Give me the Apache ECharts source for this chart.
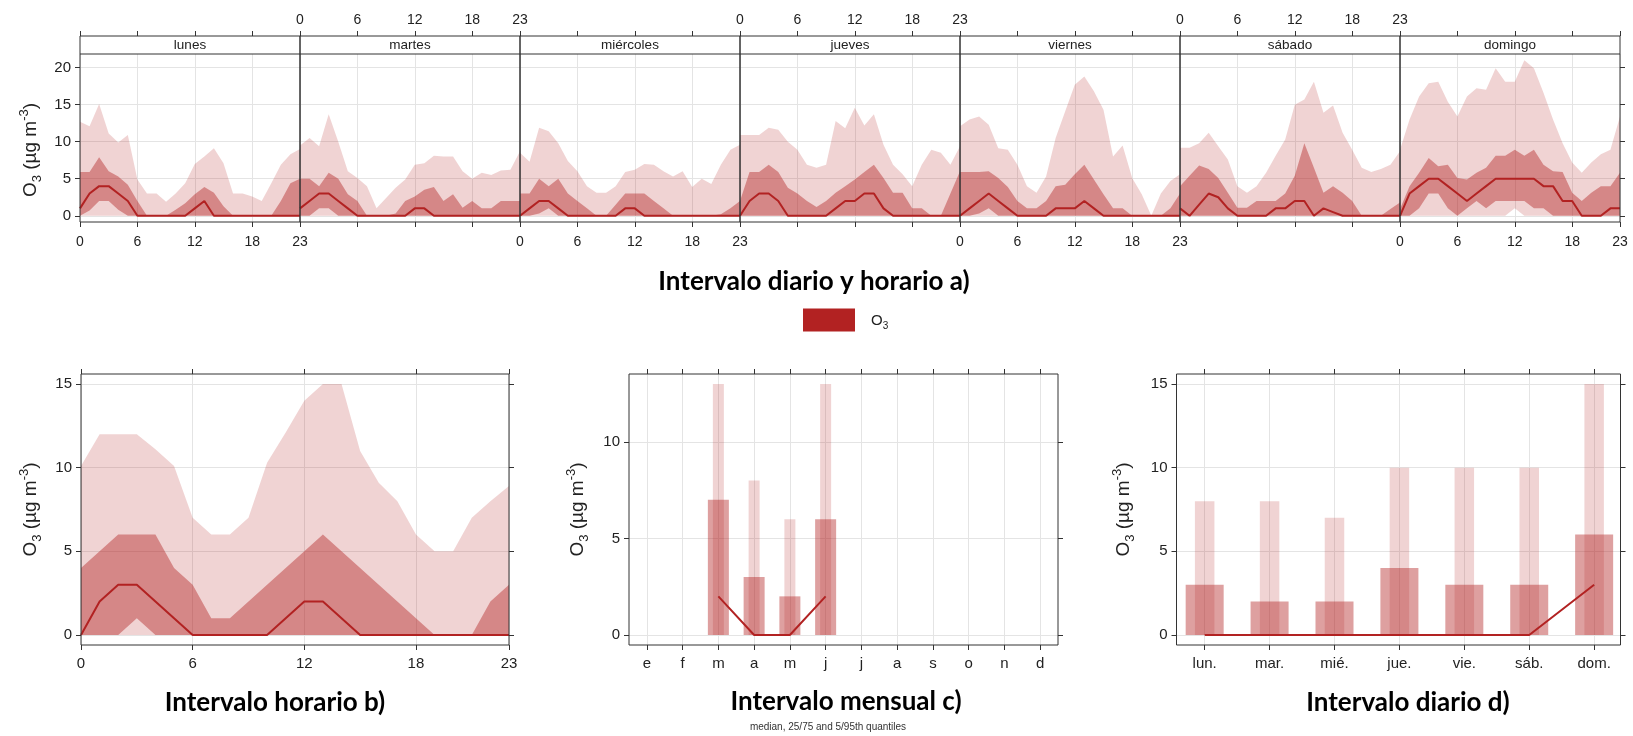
<!DOCTYPE html>
<html>
<head>
<meta charset="utf-8">
<script src="https://cdn.jsdelivr.net/npm/echarts@6/dist/echarts.min.js"></script>
<style>
  html, body { margin: 0; padding: 0; background: #fff; }
  #chart { width: 1633px; height: 736px; }
</style>
</head>
<body>
<div id="chart"></div>
<script>
// ---- data -------------------------------------------------------------
const hours = [0,1,2,3,4,5,6,7,8,9,10,11,12,13,14,15,16,17,18,19,20,21,22,23];
const hourTicks = [0, 6, 12, 18, 23];
const dayNames = ['lunes', 'martes', 'miércoles', 'jueves', 'viernes', 'sábado', 'domingo'];
const dayShort = ['lun.', 'mar.', 'mié.', 'jue.', 'vie.', 'sáb.', 'dom.'];
const monthLabels = ['e', 'f', 'm', 'a', 'm', 'j', 'j', 'a', 's', 'o', 'n', 'd'];

// O3 by weekday and hour: 5th, 25th, 50th, 75th, 95th percentiles
const zeros24 = [0,0,0,0,0,0,0,0,0,0,0,0,0,0,0,0,0,0,0,0,0,0,0,0];
const dayHourQ05 = [
  zeros24, zeros24, zeros24, zeros24, zeros24, zeros24,
  [0,0,0,0,0,0,0,0,0,0,0,0,1,0,0,0,0,0,0,0,0,0,0,0]
];
const dayHourQ25 = [
  [0,0.7,2,2,0.8,0,0,0,0,0,0,0,0,0,0,0,0,0,0,0,0,0,0,0],
  [0,0,1,1,0,0,0,0,0,0,0,0,0,0,0,0,0,0,0,0,0,0,0,0],
  [0,0,0.3,1,0,0,0,0,0,0,0,0,0,0,0,0,0,0,0,0,0,0,0,0],
  zeros24,
  [0,0,0.3,1,0,0,0,0,0,0,0,0,0,0,0,0,0,0,0,0,0,0,0,0],
  zeros24,
  [0,0,1,3,3,1,0,1,2,1,2,2,2,2,1,1,0,0,0,0,0,0,0,0]
];
const dayHourMedian = [
  [1,3,4,4,3,2,0,0,0,0,0,0,1,2,0,0,0,0,0,0,0,0,0,0],
  [1,2,3,3,2,1,0,0,0,0,0,0,1,1,0,0,0,0,0,0,0,0,0,0],
  [0,1,2,2,1,0,0,0,0,0,0,1,1,0,0,0,0,0,0,0,0,0,0,0],
  [0,2,3,3,2,0,0,0,0,0,1,2,2,3,3,1,0,0,0,0,0,0,0,0],
  [0,1,2,3,2,1,0,0,0,0,1,1,1,2,1,0,0,0,0,0,0,0,0,0],
  [1,0,1.5,3,2.5,1,0,0,0,0,1,1,2,2,0,1,0.5,0,0,0,0,0,0,0],
  [0,3,4,5,5,4,3,2,3,4,5,5,5,5,5,4,4,2,2,0,0,0,1,1]
];
const dayHourQ75 = [
  [5.9,5.9,7.9,6,5.3,4.2,2,0,0,0,0.8,1.7,2.9,3.9,3.1,1.3,0,0,0,0,0,2,4.4,5],
  [5,5,4,5.8,5,2.9,2,0,0,0,0.3,2,2.6,3.5,3.9,2,2.9,1.1,2,1,1,2,2,2],
  [3,3,5,4,5,3,2,1,0,0,1.5,3,3,3,2,1,0,0,0,0,0,0.2,1,2],
  [2,5.9,5.9,6.9,5.9,3.8,3,2,1.2,2,3.1,4,4.9,5.9,6.9,5.1,3.1,3.1,1,1,0,0,3,6],
  [5.9,5.9,5.9,6,5.1,3.9,2,1,1,2,4,4.2,5.6,6.9,4.9,2.9,1,1,0,0,0,0,1,3],
  [4,5.4,6.8,6.3,5.1,3.1,1.1,1.1,2,2,2,3,5.4,9.8,6.5,3.1,4,3.1,2,0,0,0,0.9,1.8],
  [0.9,4,5.8,7.8,6.7,6.9,5.1,4.9,5.8,6.5,8.1,8.1,8.9,8.1,8.9,6.9,6,5.9,3.1,2,3.1,4,4,5.8]
];
const dayHourQ95 = [
  [12.7,12.1,15.1,11.1,9.9,10.9,4.9,3,3,1.9,3,4.4,7,8,9.1,7.1,3,3,2.6,2,4.4,6.9,8.3,9],
  [9.5,10.5,9.4,13.7,10,6,5.1,4,1,2.4,3.8,4.9,6.9,7.1,8.1,8,8,6,5,5.8,5.5,6.1,6.2,8.7],
  [8.5,7.3,11.9,11.4,9.8,7.4,6,4,3.1,3.1,4,5.9,6.2,7,6.9,6,5.3,6,3.9,5,4.3,6.9,8.9,9.6],
  [10.9,10.9,10.9,11.9,11.6,10,8.9,6.9,6.5,6.9,12.8,11.8,14.6,12.2,13.7,9.6,6.9,5.6,4,6.9,8.9,8.5,6.9,9.4],
  [12.1,13,13.4,12.3,9.1,8.9,6.9,4,3.1,5.3,10.5,14.1,17.7,18.8,16.8,14.3,8,9.5,5.1,2.9,0,3,4.7,5.6],
  [9.2,9.2,9.8,11.2,9.4,7.6,4,3.1,4,5.8,8.1,10.3,15,15.7,18.1,13.9,14.9,11.2,8.9,6.5,5.9,6.3,6.9,8.7],
  [8.9,13,16.1,17.9,18.1,15.4,13.4,16.1,17.2,17,19.9,18.1,18.1,21,19.9,16.6,13,9.8,7.2,5.8,7.2,8.3,8.9,13.4]
];

// O3 by hour of day
const hourQ05 = [0,0,0,0,0,0,0,0,0,0,0,0,0,0,0,0,0,0,0,0,0,0,0,0];
const hourQ25 = [0,0,0,1,0,0,0,0,0,0,0,0,0,0,0,0,0,0,0,0,0,0,0,0];
const hourMedian = [0,2,3,3,2,1,0,0,0,0,0,1,2,2,1,0,0,0,0,0,0,0,0,0];
const hourQ75 = [4,5,6,6,6,4,3,1,1,2,3,4,5,6,5,4,3,2,1,0,0,0,2,3];
const hourQ95 = [10.1,12,12,12,11.1,10.1,7,6,6,7,10.3,12.1,14,15,15,11,9.1,8,6,5,5,7,8,8.9];

// O3 by month (only March to June have data)
const monthQ05 = [null,null,0,0,0,0,null,null,null,null,null,null];
const monthQ25 = [null,null,0,0,0,0,null,null,null,null,null,null];
const monthMedian = [null,null,2,0,0,2,null,null,null,null,null,null];
const monthQ75 = [null,null,7,3,2,6,null,null,null,null,null,null];
const monthQ95 = [null,null,13,8,6,13,null,null,null,null,null,null];

// O3 by weekday
const weekdayQ05 = [0,0,0,0,0,0,0];
const weekdayQ25 = [0,0,0,0,0,0,0];
const weekdayMedian = [0,0,0,0,0,0,3];
const weekdayQ75 = [3,2,2,4,3,3,6];
const weekdayQ95 = [8,8,7,10,10,10,15];

// ---- styling ----------------------------------------------------------
const RED = '#b22222';
const BAND_OUTER = 'rgba(178,34,34,0.2)';
const BAND_INNER = 'rgba(178,34,34,0.43)';
const INK = '#222';
const GRIDLINE = '#e4e4e4';
const FRAME = '#333';
const FONT = 'Liberation Sans';
const TITLE_FONT = 'Lato';
const TITLE_SIZE = 26;

// layout of the weekday-hour strip panels
const TOP_L = 80, TOP_W = 220, STRIP_TOP = 36, STRIP_H = 18, TOP_PLOT_TOP = 54, TOP_PLOT_BOTTOM = 222;
const TOP_RANGE = [-0.84, 21.84];
// layout of the three lower panels
const LOW_TOP = 374, LOW_H = 271;
const LOW_PANELS = [
  { left: 81, width: 428 },
  { left: 629, width: 429 },
  { left: 1176.5, width: 444 }
];

const grids = [], xAxes = [], yAxes = [], series = [], graphics = [];

const labelStyle = (show, margin, size) => ({
  show, margin, color: INK, fontFamily: FONT, fontSize: size
});

function hourAxis(gridIndex, position, showLabels, offset, split, margin, size) {
  const pick = (i) => hourTicks.indexOf(i) >= 0;
  return {
    type: 'category', gridIndex, position, offset, data: hours, boundaryGap: false,
    axisLine: { show: false, onZero: false },
    axisTick: { show: true, inside: false, length: 5, interval: pick, lineStyle: { color: FRAME } },
    axisLabel: Object.assign(labelStyle(showLabels, margin, size), { interval: pick }),
    splitLine: { show: split, interval: pick, lineStyle: { color: GRIDLINE, width: 1 } }
  };
}

function valueAxis(gridIndex, position, range, ticks, opts) {
  return {
    type: 'value', gridIndex, position, min: range[0], max: range[1],
    axisLine: { show: false, onZero: false },
    axisTick: { show: opts.ticks, inside: false, length: 5, customValues: ticks, lineStyle: { color: FRAME } },
    axisLabel: Object.assign(labelStyle(opts.labels, opts.margin || 9, opts.size || 15),
      { customValues: ticks, formatter: opts.formatter }),
    splitLine: { show: opts.split, lineStyle: { color: GRIDLINE, width: 1 } }
  };
}

function addBand(xi, yi, lo, hi, color, stackId) {
  series.push({
    type: 'line', xAxisIndex: xi, yAxisIndex: yi, data: lo, stack: stackId,
    symbol: 'none', silent: true, lineStyle: { width: 0, opacity: 0 }
  });
  series.push({
    type: 'line', xAxisIndex: xi, yAxisIndex: yi, stack: stackId,
    data: hi.map((v, k) => (v == null ? null : v - lo[k])),
    symbol: 'none', silent: true, lineStyle: { width: 0, opacity: 0 },
    areaStyle: { color, opacity: 1 }
  });
}

function addMedian(xi, yi, data) {
  series.push({
    type: 'line', xAxisIndex: xi, yAxisIndex: yi, data, symbol: 'none', silent: true,
    lineStyle: { color: RED, width: 2 }, z: 3
  });
}

function addBars(xi, yi, xs, lo, hi, color, width, stackId) {
  series.push({
    type: 'bar', xAxisIndex: xi, yAxisIndex: yi, stack: stackId, barWidth: width, silent: true,
    data: xs.map((x, k) => [x, lo[k]]), itemStyle: { color: 'rgba(0,0,0,0)' }
  });
  series.push({
    type: 'bar', xAxisIndex: xi, yAxisIndex: yi, stack: stackId, barWidth: width, silent: true,
    data: xs.map((x, k) => [x, hi[k] == null ? null : hi[k] - lo[k]]), itemStyle: { color }
  });
}

function frame(x, y, w, h) {
  graphics.push({
    type: 'rect', z: 100, silent: true,
    shape: { x, y, width: w, height: h },
    style: { fill: null, stroke: FRAME, lineWidth: 1 }
  });
}

function text(x, y, str, style, rotation) {
  graphics.push({
    type: 'text', x, y, rotation: rotation || 0, z: 100, silent: true,
    style: Object.assign({ text: str, fill: INK, align: 'center', verticalAlign: 'middle' }, style)
  });
}

function title(x, y, str) {
  text(x, y, str, { fontFamily: TITLE_FONT, fontWeight: 'bold', fontSize: TITLE_SIZE, fill: '#000' });
}

const unitRich = {
  a: { fontFamily: FONT, fontSize: 19, lineHeight: 26, verticalAlign: 'middle', color: INK },
  b: { fontFamily: FONT, fontSize: 13, lineHeight: 13, verticalAlign: 'bottom', color: INK },
  c: { fontFamily: FONT, fontSize: 13, lineHeight: 13, verticalAlign: 'top', color: INK }
};
const unitLabel = '{a|O}{b|3}{a| (µg m}{c|-3}{a|)}';

// ---- a) weekday x hour panels -----------------------------------------
const topTicks = [0, 5, 10, 15, 20];
dayNames.forEach((name, d) => {
  const gi = grids.length;
  const left = TOP_L + d * TOP_W;
  grids.push({ left, top: TOP_PLOT_TOP, width: TOP_W, height: TOP_PLOT_BOTTOM - TOP_PLOT_TOP, show: false });
  const xb = xAxes.length;
  xAxes.push(hourAxis(gi, 'bottom', d % 2 === 0, 0, true, 13, 14));
  xAxes.push(hourAxis(gi, 'top', d % 2 === 1, STRIP_H, false, 9, 14));
  const yl = yAxes.length;
  yAxes.push(valueAxis(gi, 'left', TOP_RANGE, topTicks, { labels: d === 0, ticks: d === 0, split: true }));
  if (d === dayNames.length - 1) {
    yAxes.push(valueAxis(gi, 'right', TOP_RANGE, topTicks, { labels: false, ticks: true, split: false }));
  }
  addBand(xb, yl, dayHourQ05[d], dayHourQ95[d], BAND_OUTER, 'outer' + d);
  addBand(xb, yl, dayHourQ25[d], dayHourQ75[d], BAND_INNER, 'inner' + d);
  addMedian(xb, yl, dayHourMedian[d]);

  frame(left, STRIP_TOP, TOP_W, TOP_PLOT_BOTTOM - STRIP_TOP);
  graphics.push({
    type: 'line', z: 100, silent: true,
    shape: { x1: left, y1: TOP_PLOT_TOP, x2: left + TOP_W, y2: TOP_PLOT_TOP },
    style: { stroke: FRAME, lineWidth: 1 }
  });
  text(left + TOP_W / 2, STRIP_TOP + STRIP_H / 2 + 0.5, name, { fontFamily: FONT, fontSize: 13.5 });
});
text(31, 150, unitLabel, { rich: unitRich }, Math.PI / 2);
title(814, 282, 'Intervalo diario y horario a)');

// legend
graphics.push({
  type: 'rect', z: 100, silent: true,
  shape: { x: 803, y: 308.5, width: 52, height: 23 },
  style: { fill: RED }
});
text(871, 321, '{a|O}{b|3}', {
  align: 'left',
  rich: {
    a: { fontFamily: FONT, fontSize: 15, lineHeight: 20, verticalAlign: 'middle', color: INK },
    b: { fontFamily: FONT, fontSize: 10, lineHeight: 10, verticalAlign: 'bottom', color: INK }
  }
});

// ---- b) hour of day ----------------------------------------------------
{
  const p = LOW_PANELS[0];
  const gi = grids.length;
  grids.push({ left: p.left, top: LOW_TOP, width: p.width, height: LOW_H, show: false });
  const xb = xAxes.length;
  xAxes.push(hourAxis(gi, 'bottom', true, 0, true, 11, 15));
  xAxes.push(hourAxis(gi, 'top', false, 0, false, 8, 15));
  const range = [-0.6, 15.6], ticks = [0, 5, 10, 15];
  const yl = yAxes.length;
  yAxes.push(valueAxis(gi, 'left', range, ticks, { labels: true, ticks: true, split: true }));
  yAxes.push(valueAxis(gi, 'right', range, ticks, { labels: false, ticks: true, split: false }));
  addBand(xb, yl, hourQ05, hourQ95, BAND_OUTER, 'hourOuter');
  addBand(xb, yl, hourQ25, hourQ75, BAND_INNER, 'hourInner');
  addMedian(xb, yl, hourMedian);
  frame(p.left, LOW_TOP, p.width, LOW_H);
  text(31, LOW_TOP + LOW_H / 2, unitLabel, { rich: unitRich }, Math.PI / 2);
  title(275, 703, 'Intervalo horario b)');
}

// ---- c) month ----------------------------------------------------------
{
  const p = LOW_PANELS[1];
  const gi = grids.length;
  grids.push({ left: p.left, top: LOW_TOP, width: p.width, height: LOW_H, show: false });
  const xs = monthLabels.map((_, k) => k + 1);
  const xr = [0.5, 12.5];
  const xb = xAxes.length;
  xAxes.push(valueAxis(gi, 'bottom', xr, xs, {
    labels: true, ticks: true, split: true, margin: 11, formatter: (v) => monthLabels[Math.round(v) - 1]
  }));
  xAxes.push(valueAxis(gi, 'top', xr, xs, { labels: false, ticks: true, split: false }));
  const range = [-0.52, 13.52], ticks = [0, 5, 10];
  const yl = yAxes.length;
  yAxes.push(valueAxis(gi, 'left', range, ticks, { labels: true, ticks: true, split: true }));
  yAxes.push(valueAxis(gi, 'right', range, ticks, { labels: false, ticks: true, split: false }));
  addBars(xb + 1, yl, xs, monthQ05, monthQ95, BAND_OUTER, 11, 'monthOuter');
  addBars(xb, yl, xs, monthQ25, monthQ75, BAND_INNER, 21, 'monthInner');
  addMedian(xb, yl, xs.map((x, k) => [x, monthMedian[k]]));
  frame(p.left, LOW_TOP, p.width, LOW_H);
  text(578, LOW_TOP + LOW_H / 2, unitLabel, { rich: unitRich }, Math.PI / 2);
  title(846, 702, 'Intervalo mensual c)');
  text(828, 727, 'median, 25/75 and 5/95th quantiles', { fontFamily: FONT, fontSize: 10, fill: '#333' });
}

// ---- d) weekday --------------------------------------------------------
{
  const p = LOW_PANELS[2];
  const gi = grids.length;
  grids.push({ left: p.left, top: LOW_TOP, width: p.width, height: LOW_H, show: false });
  const xs = dayShort.map((_, k) => k + 1);
  const xr = [0.566, 7.406];
  const xb = xAxes.length;
  xAxes.push(valueAxis(gi, 'bottom', xr, xs, {
    labels: true, ticks: true, split: true, margin: 11, formatter: (v) => dayShort[Math.round(v) - 1]
  }));
  xAxes.push(valueAxis(gi, 'top', xr, xs, { labels: false, ticks: true, split: false }));
  const range = [-0.6, 15.6], ticks = [0, 5, 10, 15];
  const yl = yAxes.length;
  yAxes.push(valueAxis(gi, 'left', range, ticks, { labels: true, ticks: true, split: true }));
  yAxes.push(valueAxis(gi, 'right', range, ticks, { labels: false, ticks: true, split: false }));
  addBars(xb + 1, yl, xs, weekdayQ05, weekdayQ95, BAND_OUTER, 19.5, 'dayOuter');
  addBars(xb, yl, xs, weekdayQ25, weekdayQ75, BAND_INNER, 38, 'dayInner');
  addMedian(xb, yl, xs.map((x, k) => [x, weekdayMedian[k]]));
  frame(p.left, LOW_TOP, p.width, LOW_H);
  text(1124, LOW_TOP + LOW_H / 2, unitLabel, { rich: unitRich }, Math.PI / 2);
  title(1408, 703, 'Intervalo diario d)');
}

const chart = echarts.init(document.getElementById('chart'), null, { renderer: 'canvas' });
chart.setOption({
  animation: false,
  backgroundColor: '#fff',
  grid: grids,
  xAxis: xAxes,
  yAxis: yAxes,
  series: series,
  graphic: { elements: graphics }
});
</script>
</body>
</html>
